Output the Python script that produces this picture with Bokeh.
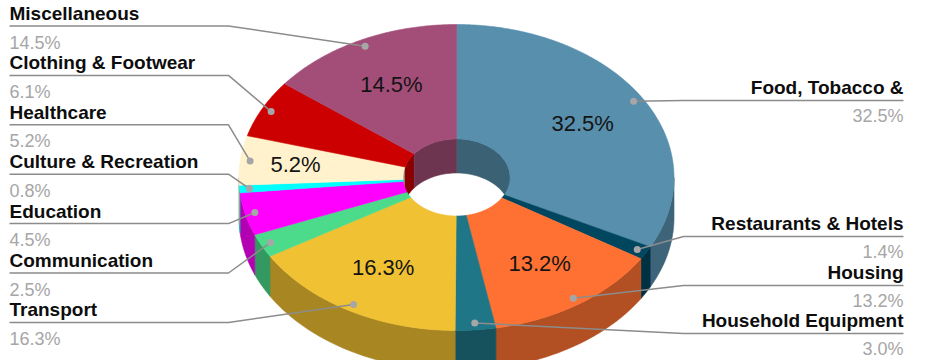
import numpy as np
from bokeh.plotting import figure
from bokeh.models import Range1d, ColumnDataSource
from bokeh.embed import file_html
from bokeh.resources import INLINE
from bokeh.core.properties import value

# ---------------- data ----------------
categories = ["Food, Tobacco &", "Restaurants & Hotels", "Housing", "Household Equipment",
              "Transport", "Communication", "Education", "Culture & Recreation",
              "Healthcare", "Clothing & Footwear", "Miscellaneous"]
shares = [32.5, 1.4, 13.2, 3.0, 16.3, 2.5, 4.5, 0.8, 5.2, 6.1, 14.5]
show_inner = [True, False, True, False, True, False, False, False, True, False, True]
colors = ["#588FAD", "#00465F", "#FF7133", "#1F7686", "#F0C133", "#4BDB8B",
          "#FF00FF", "#00FFFF", "#FFF2CC", "#CC0000", "#A34E78"]

# label placement order (layout)
left_order = [10, 9, 8, 7, 6, 5, 4]
right_order = [0, 1, 2, 3]

# ---------------- geometry ----------------
CX, CY = 456.0, 177.0
RX, RY = 217.5, 153.0
HX, HY = 53.5, 38.5
DEPTH = 40.0
HDEPTH = 34.0


def shade(hexcol, f):
    h = hexcol.lstrip("#")
    r, g, b = (int(h[i:i + 2], 16) for i in (0, 2, 4))
    return "#%02X%02X%02X" % (int(r * f), int(g * f), int(b * f))


def pt(t, rx, ry, dy=0.0):
    r = np.radians(t)
    return CX + rx * np.sin(r), CY - ry * np.cos(r) + dy


vals = np.array(shares, dtype=float)
ends = np.cumsum(vals) / vals.sum() * 360.0
starts = np.concatenate([[0.0], ends[:-1]])
mids = (starts + ends) / 2

p = figure(width=934, height=360, output_backend="svg", toolbar_location=None,
           x_range=Range1d(0, 934), y_range=Range1d(360, 0),
           x_axis_location=None, y_axis_location=None, min_border=0)
p.grid.visible = False
p.outline_line_color = None
p.background_fill_color = "white"
p.border_fill_color = "white"

# outer side walls (front half)
xs, ys, cs = [], [], []
for i in range(len(vals)):
    lo, hi = max(starts[i], 90.0), min(ends[i], 270.0)
    if hi > lo:
        ts = np.linspace(lo, hi, 60)
        x1, y1 = pt(ts, RX, RY)
        x2, y2 = pt(ts[::-1], RX, RY, DEPTH)
        xs.append(list(np.concatenate([x1, x2])))
        ys.append(list(np.concatenate([y1, y2])))
        cs.append(shade(colors[i], 0.70))
p.patches(xs=xs, ys=ys, fill_color=cs, line_color=cs, line_width=0.6)

# inner hole back wall
xs, ys, cs = [], [], []
for i in range(len(vals)):
    for (A, B) in [(0.0, 90.0), (270.0, 360.0)]:
        lo, hi = max(starts[i], A), min(ends[i], B)
        if hi > lo:
            ts = np.linspace(lo, hi, 40)
            x1, y1 = pt(ts, HX, HY)
            x2, y2 = pt(ts[::-1], HX, HY, HDEPTH)
            xs.append(list(np.concatenate([x1, x2])))
            ys.append(list(np.concatenate([y1, y2])))
            cs.append(shade(colors[i], 0.68))
p.patches(xs=xs, ys=ys, fill_color=cs, line_color=cs, line_width=0.6)

# top faces
xs, ys, cs = [], [], []
for i in range(len(vals)):
    ts = np.linspace(starts[i], ends[i], max(8, int((ends[i] - starts[i]) * 2)))
    x1, y1 = pt(ts, RX, RY)
    x2, y2 = pt(ts[::-1], HX, HY)
    xs.append(list(np.concatenate([x1, x2])))
    ys.append(list(np.concatenate([y1, y2])))
    cs.append(colors[i])
p.patches(xs=xs, ys=ys, fill_color=cs, line_color=cs, line_width=0.6)

# inner percentage labels
lab_r = {8: 0.745}
ix, iy, it = [], [], []
for i in range(len(vals)):
    if show_inner[i]:
        r = lab_r.get(i, 0.68)
        x, y = pt(mids[i], RX * r, RY * r)
        ix.append(x); iy.append(y); it.append("%.1f%%" % shares[i])
p.text(x=ix, y=iy, text=it, text_font=value("Liberation Sans"), text_font_size="22px",
       text_color="#141414", text_align="center", text_baseline="middle")

# leader lines, dots, outside labels
LINE_C = "#8C8C8C"
lx, ly, dx, dy = [], [], [], []
nx, ny, nt, na = [], [], [], []
px_, py_, pt_, pa = [], [], [], []
for k, i in enumerate(left_order):
    name_y = 13 + 49.4 * k
    line_y = name_y + 12.5
    d = pt(mids[i], RX * 0.955, RY * 0.955)
    dx.append(d[0]); dy.append(d[1])
    lx.append([9, 228, d[0]]); ly.append([line_y, line_y, d[1]])
    nx.append(9); ny.append(name_y); nt.append(categories[i]); na.append("left")
    px_.append(9); py_.append(name_y + 29); pt_.append("%.1f%%" % shares[i]); pa.append("left")
right_y = [87, 223, 272, 320]
for k, i in enumerate(right_order):
    name_y = right_y[k]
    line_y = name_y + 13
    d = pt(mids[i], RX * 0.955, RY * 0.955)
    dx.append(d[0]); dy.append(d[1])
    lx.append([d[0], 683, 903]); ly.append([d[1], line_y, line_y])
    nx.append(903); ny.append(name_y); nt.append(categories[i]); na.append("right")
    px_.append(903); py_.append(name_y + 28); pt_.append("%.1f%%" % shares[i]); pa.append("right")

p.multi_line(xs=lx, ys=ly, line_color=LINE_C, line_width=1.5)
p.scatter(x=dx, y=dy, size=7, fill_color="#A6A6A6", line_color=None)

src_n = ColumnDataSource(dict(x=nx, y=ny, t=nt, a=na))
p.text(x="x", y="y", text="t", text_align="a", source=src_n,
       text_font=value("Liberation Sans"), text_font_style="bold", text_font_size="19px",
       text_color="#0D0D0D", text_baseline="middle")
src_p = ColumnDataSource(dict(x=px_, y=py_, t=pt_, a=pa))
p.text(x="x", y="y", text="t", text_align="a", source=src_p,
       text_font=value("Liberation Sans"), text_font_size="18px",
       text_color="#A6A6A6", text_baseline="middle")

open("out.html", "w").write(file_html(p, INLINE))
